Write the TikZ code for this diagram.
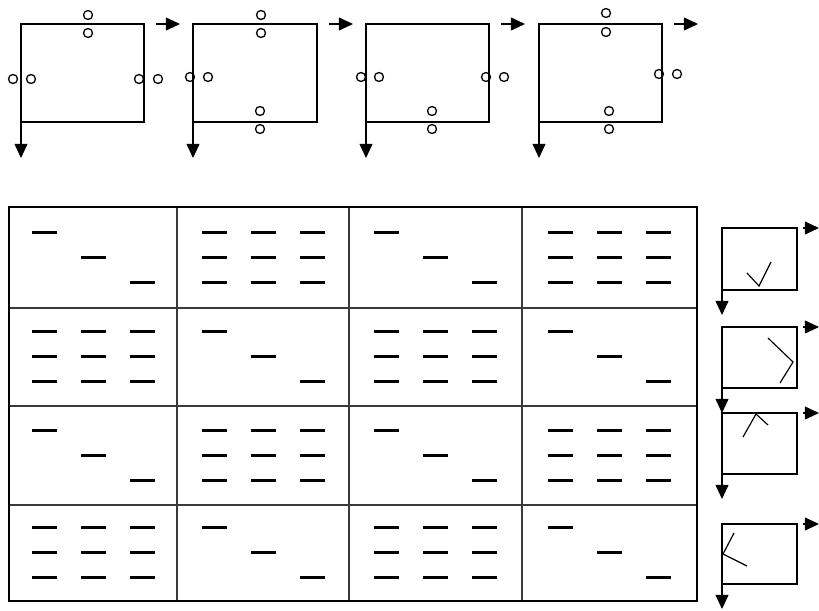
\documentclass[tikz,border=0pt]{standalone}
\usepackage{xcolor}
\usepackage{tikz}
\usetikzlibrary{arrows.meta}
\definecolor{linegray}{HTML}{3a3a3a}
\tikzset{
  box/.style={line width=1pt},
  ring/.style={line width=1.1pt},
  dashmark/.style={line width=1.8pt},
  flow/.style={line width=1pt,-{Triangle[length=12pt,width=11pt]}},
}

\begin{document}
\begin{tikzpicture}[x=0.03cm,y=-0.03cm]
  \useasboundingbox (0,0) rectangle (819,610);
  % top row of frames
  \foreach \xl/\xr in {21/144, 193/317, 366/489, 539/662} {
    \draw[box] (\xl,24) rectangle (\xr,122);
    \draw[flow] (\xr+12,24) -- ++(24,0);
    \draw[flow] (\xl,122) -- ++(0,36);
  }
  \foreach \x/\y in {88/15, 88/33, 13/79, 31/79, 139/79, 158/79,
                     261/15, 261/33, 190/77, 208/77, 260/111, 260/129,
                     361/77, 379/77, 486/77, 504/77, 432/111, 432/129,
                     606/13, 606/32, 659/74, 677/74, 609/111, 609/129}
    \draw[ring] (\x,\y) circle[radius=0.135cm];
  % grid
  \draw[linegray,line width=1.1pt] (177,207) -- (177,601) (349,207) -- (349,601) (522,207) -- (522,601);
  \draw[linegray,line width=1.1pt] (9,308) -- (697,308) (9,406) -- (697,406) (9,505) -- (697,505);
  \draw[line width=1.6pt] (9,207) rectangle (697,601);
  \foreach \cx/\cy in {93/257.5, 435.5/257.5, 263/356.5, 609.5/356.5, 93/455.5, 435.5/455.5, 263/552.5, 609.5/552.5}
    \foreach \k in {-1,0,1}
      \draw[dashmark] (\cx+\k*49-12.5,\cy+\k*25) -- ++(25,0);
  \foreach \cx/\cy in {263/257.5, 609.5/257.5, 93/356.5, 435.5/356.5, 263/455.5, 609.5/455.5, 93/552.5, 435.5/552.5}
    \foreach \k in {-1,0,1}
      \foreach \m in {-1,0,1}
        \draw[dashmark] (\cx+\k*49-12.5,\cy+\m*25) -- ++(25,0);
  % small frames on the right
  \foreach \yt/\yb in {228/290, 327/388, 413/474, 524/584} {
    \draw[box] (722,\yt) rectangle (797,\yb);
    \draw[flow] (803,\yt) -- (819,\yt);
    \draw[flow] (722,\yb) -- ++(0,25);
  }
  \draw[box] (747,273) -- (759,286) -- (771,262);
  \draw[box] (768,338) -- (793,362) -- (780,383);
  \draw[box] (743,437) -- (756,414) -- (768,425);
  \draw[box] (734,533) -- (723,554) -- (747,566);
\end{tikzpicture}
\end{document}
